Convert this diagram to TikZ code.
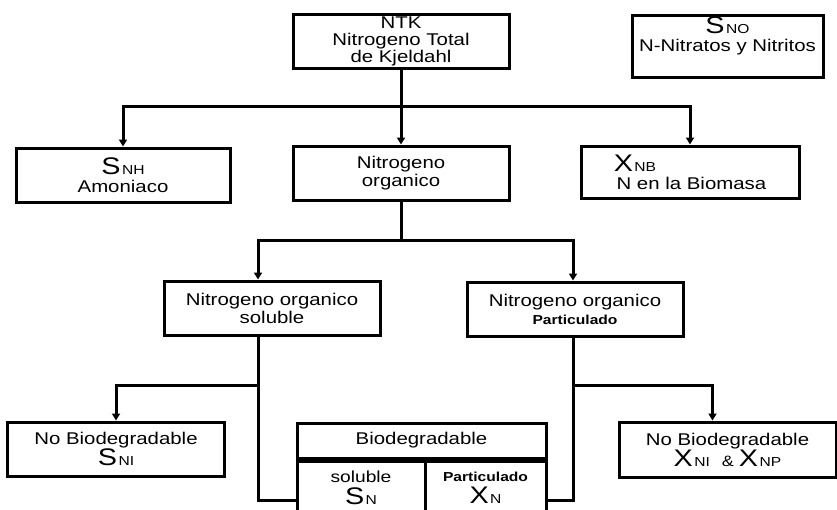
\documentclass[tikz,border=0pt]{standalone}
\usepackage{fontspec}
\setmainfont[FakeStretch=1.2]{Liberation Sans}
\usetikzlibrary{arrows.meta,positioning}
% big variable letter with its small index
\newcommand\nvar[2]{{\fontsize{24}{24}\selectfont #1}\kern1.5pt{\fontsize{13}{13}\selectfont #2}}
\newcommand\smallbold[1]{{\fontsize{13}{14}\selectfont\bfseries #1}}

\begin{document}
\begin{tikzpicture}[x=1pt,y=-1pt,
  box/.style={draw=black,line width=3pt,minimum width=216pt,minimum height=54pt,
              inner sep=2pt,font=\fontsize{17}{18}\selectfont,align=center},
  arr/.style={-{Triangle[length=7pt,width=8pt]},line width=3pt},
  conn/.style={line width=3pt}]
\useasboundingbox (0,0) rectangle (837,509);
\clip (0,0) rectangle (837,509);
% top row
\node[box,minimum height=53pt,font=\fontsize{17}{17}\selectfont]
  (ntk) at (401,41.5) {NTK\\Nitrogeno Total\\de Kjeldahl};
\node[box,minimum width=191pt,minimum height=62pt]
  (sno) at (727.5,46) {\raisebox{5pt}[0pt][0pt]{\begin{tabular}{@{}c@{}}\nvar{S}{NO}\\N-Nitratos y Nitritos\end{tabular}}};
% second row
\node[box,minimum width=214pt] (snh) at (123,175) {\nvar{S}{NH}\\Amoniaco};
\node[box] (norg) at (401,173) {Nitrogeno\\organico};
\node[box,minimum width=218pt,minimum height=52pt,align=left]
  (xnb) at (690,172) {\nvar{X}{NB}\\\,N en la Biomasa};
% third row
\node[box] (nsol) at (272,308) {Nitrogeno organico\\soluble};
\node[box] (npart) at (575,309) {Nitrogeno organico\\\smallbold{Particulado}};
% bottom row
\node[box,minimum width=217pt] (sni) at (116,449) {No Biodegradable\\\nvar{S}{NI}};
\node[box,minimum width=217pt,minimum height=55pt]
  (xni) at (727.5,449.5)
  {No Biodegradable\\\nvar{X}{NI}\hspace{12pt}{\fontsize{15}{15}\selectfont\&}\hspace{5pt}\nvar{X}{NP}};
\node[box,minimum width=249pt,minimum height=35pt] (bio) at (421.5,440.5) {Biodegradable};
\node[box,minimum width=128pt,minimum height=53pt,anchor=north west]
  (biosol) at (bio.south west) {{\fontsize{16}{17}\selectfont soluble}\\[4pt]\nvar{S}{N}};
\node[box,minimum width=121pt,minimum height=53pt,anchor=north east]
  (biopart) at (bio.south east) {\smallbold{Particulado}\\[4pt]\nvar{X}{N}};
% junctions
\coordinate (j1) at (401,106);
\coordinate (j2) at (401,240);
\coordinate (s1) at (258,385);
\coordinate (s2) at (258,500);
\coordinate (p1) at (573,385);
\coordinate (p2) at (573,500);
% connectors
\draw[conn] (ntk.south) -- (j1);
\draw[arr] (j1) -| (snh.north);
\draw[arr] (j1) -- (norg.north);
\draw[arr] (j1) -| (xnb.north);
\draw[conn] (norg.south) -- (j2);
\draw[arr] (j2) -| ([xshift=-14pt]nsol.north);
\draw[arr] (j2) -| ([xshift=-2pt]npart.north);
\draw[conn] ([xshift=-14pt]nsol.south) -- (s1) -- (s2) -- (s2 -| biosol.west);
\draw[arr] (s1) -| (sni.north);
\draw[conn] ([xshift=-2pt]npart.south) -- (p1) -- (p2) -- (p2 -| biopart.east);
\draw[arr] (p1) -| ([xshift=-15pt]xni.north);
\end{tikzpicture}
\end{document}
